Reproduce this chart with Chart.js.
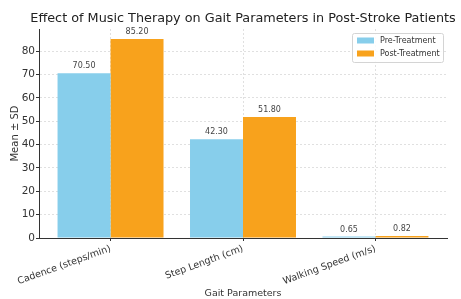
<!DOCTYPE html>
<html>
<head>
<meta charset="utf-8">
<script src="https://cdn.jsdelivr.net/npm/chart.js@4/dist/chart.umd.min.js"></script>
<style>
  html, body { margin: 0; padding: 0; background: #fff; }
  #wrap { width: 461px; height: 299px; }
</style>
</head>
<body>
<div id="wrap"><canvas id="c" width="461" height="299"></canvas></div>
<script>
const categories = ['Cadence (steps/min)', 'Step Length (cm)', 'Walking Speed (m/s)'];
const preTreatment = [70.50, 42.30, 0.65];
const postTreatment = [85.20, 51.80, 0.82];
const seriesNames = ['Pre-Treatment', 'Post-Treatment'];
const yTicks = [0, 10, 20, 30, 40, 50, 60, 70, 80];
const titleText = 'Effect of Music Therapy on Gait Parameters in Post-Stroke Patients';
const xTitle = 'Gait Parameters';
const yTitle = 'Mean \u00b1 SD';

const FONT = 'DejaVu Sans';
const colors = ['#87CEEB', '#F8A21C'];

const toPoints = arr => arr.map((v, i) => ({ x: i, y: v }));

const decor = {
  id: 'decor',
  afterDatasetsDraw(chart) {
    const ctx = chart.ctx;
    ctx.save();
    ctx.font = '8px "' + FONT + '"';
    ctx.fillStyle = '#444';
    ctx.textAlign = 'center';
    ctx.textBaseline = 'bottom';
    chart.data.datasets.forEach((ds, di) => {
      chart.getDatasetMeta(di).data.forEach((bar, i) => {
        ctx.fillText(ds.data[i].y.toFixed(2), bar.x, bar.y - 3);
      });
    });
    ctx.restore();
  },
  afterDraw(chart) {
    const ctx = chart.ctx;
    const a = chart.chartArea;
    ctx.save();
    ctx.font = '12.8px "' + FONT + '"';
    ctx.fillStyle = '#222';
    ctx.textAlign = 'center';
    ctx.textBaseline = 'middle';
    ctx.fillText(titleText, 243, 19);
    const bx = a.right - 95, by = a.top + 4, bw = 91, bh = 29;
    ctx.fillStyle = 'rgba(255,255,255,0.85)';
    ctx.strokeStyle = '#d4d4d4';
    ctx.lineWidth = 1;
    ctx.beginPath();
    if (ctx.roundRect) ctx.roundRect(bx + 0.5, by + 0.5, bw, bh, 2); else ctx.rect(bx + 0.5, by + 0.5, bw, bh);
    ctx.fill();
    ctx.stroke();
    ctx.font = '8px "' + FONT + '"';
    ctx.textAlign = 'left';
    ctx.textBaseline = 'middle';
    chart.data.datasets.forEach((ds, i) => {
      const cy = by + 7.5 + i * 13;
      ctx.fillStyle = ds.backgroundColor;
      ctx.fillRect(bx + 5, cy - 3, 17, 6);
      ctx.fillStyle = '#333';
      ctx.fillText(ds.label, bx + 28, cy);
    });
    ctx.restore();
  }
};

new Chart(document.getElementById('c'), {
  type: 'bar',
  data: {
    datasets: [
      { label: seriesNames[0], data: toPoints(preTreatment), backgroundColor: colors[0] },
      { label: seriesNames[1], data: toPoints(postTreatment), backgroundColor: colors[1] }
    ]
  },
  options: {
    responsive: false,
    animation: false,
    devicePixelRatio: 1,
    layout: { padding: { top: 29, right: 14, left: 0, bottom: 0 } },
    datasets: { bar: { categoryPercentage: 0.8, barPercentage: 1.0 } },
    plugins: {
      legend: { display: false },
      title: { display: false },
      tooltip: { enabled: false }
    },
    scales: {
      x: {
        type: 'linear',
        min: -0.54,
        max: 2.54,
        offset: false,
        afterBuildTicks(s) { s.ticks = categories.map((c, i) => ({ value: i })); },
        grid: {
          offset: false,
          color: '#e0e0e0',
          lineWidth: 1,
          drawTicks: true,
          tickLength: 3,
          tickColor: '#333',
          tickBorderDash: []
        },
        border: { display: true, color: '#333', width: 1, dash: [2, 2] },
        ticks: {
          font: { family: FONT, size: 9.5 },
          color: '#333',
          minRotation: 20,
          maxRotation: 20,
          padding: 2,
          autoSkip: false,
          callback: v => categories[v]
        },
        title: {
          display: true,
          text: xTitle,
          font: { family: FONT, size: 9.5 },
          color: '#333',
          padding: { top: 0, bottom: 0 }
        },
        afterFit(s) { s.height = 61; }
      },
      y: {
        min: 0,
        max: 89.46,
        afterBuildTicks(s) { s.ticks = yTicks.map(v => ({ value: v })); },
        grid: {
          color: '#e0e0e0',
          lineWidth: 1,
          drawTicks: true,
          tickLength: 3,
          tickColor: '#333',
          tickBorderDash: []
        },
        border: { display: true, color: '#333', width: 1, dash: [2, 2] },
        ticks: {
          font: { family: FONT, size: 10.5 },
          color: '#333',
          padding: 1
        },
        title: {
          display: true,
          text: yTitle,
          font: { family: FONT, size: 10 },
          color: '#333',
          padding: { top: 9, bottom: 0 }
        },
        afterFit(s) { s.width = 39; }
      }
    }
  },
  plugins: [decor]
});
</script>
</body>
</html>
